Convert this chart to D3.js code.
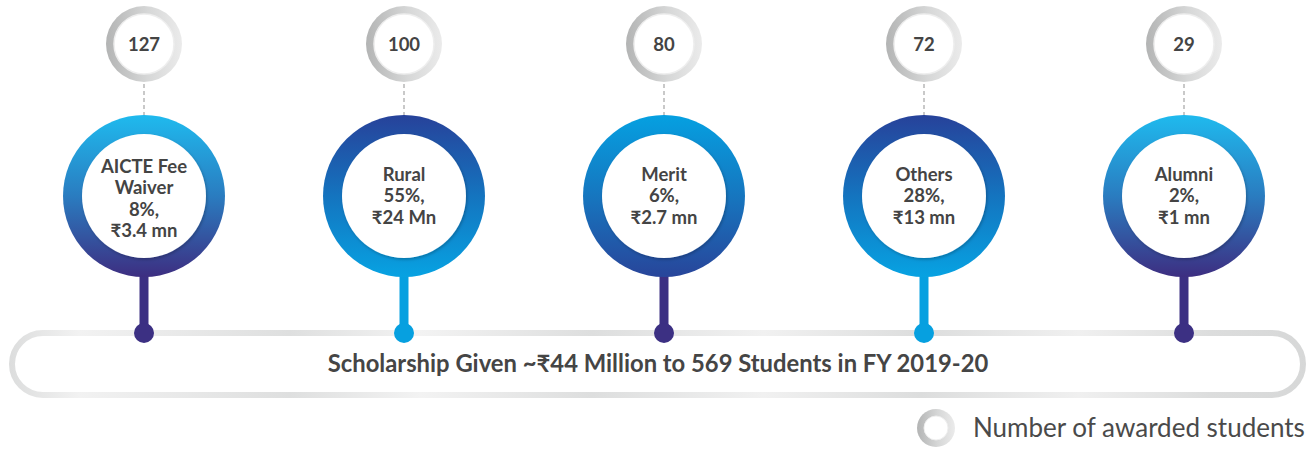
<!DOCTYPE html>
<html>
<head>
<meta charset="utf-8">
<script src="https://cdn.jsdelivr.net/npm/d3@7"></script>
<style>
  html, body { margin: 0; padding: 0; background: #ffffff; }
  svg { display: block; }
  text { font-family: Lato, "Open Sans", sans-serif; }
</style>
</head>
<body>
<svg id="chart" width="1316" height="449"></svg>
<script>
// ---- data ----
const categories = ["AICTE Fee Waiver", "Rural", "Merit", "Others", "Alumni"];
const categoryLines = [["AICTE Fee", "Waiver"], ["Rural"], ["Merit"], ["Others"], ["Alumni"]];
const students = [127, 100, 80, 72, 29];
const shares = ["8%,", "55%,", "6%,", "28%,", "2%,"];
const amounts = ["₹3.4 mn", "₹24 Mn", "₹2.7 mn", "₹13 mn", "₹1 mn"];
const ringStyle = ["A", "B", "C", "B", "A"];
const titleText = "Scholarship Given ~₹44 Million to 569 Students in FY 2019-20";
const legendText = "Number of awarded students";

// ---- styles ----
const ringStops = {
  A: [["0%", "#1fbaee"], ["50%", "#2a7cc0"], ["100%", "#3d2e81"]],
  B: [["0%", "#27429a"], ["50%", "#1474bf"], ["100%", "#07a2e2"]],
  C: [["0%", "#05a0e1"], ["50%", "#1676bf"], ["100%", "#28459a"]]
};
const stemColor = { A: "#3c3083", B: "#06a0e0", C: "#3c3083" };

const svg = d3.select("#chart");
const defs = svg.append("defs");

Object.entries(ringStops).forEach(([k, stops]) => {
  const g = defs.append("linearGradient").attr("id", "ring" + k)
    .attr("x1", 0).attr("y1", 0).attr("x2", 0).attr("y2", 1);
  stops.forEach(s => g.append("stop").attr("offset", s[0]).attr("stop-color", s[1]));
});

const gg = defs.append("linearGradient").attr("id", "grayRing")
  .attr("x1", 0).attr("y1", 0).attr("x2", 1).attr("y2", 0);
gg.append("stop").attr("offset", "0%").attr("stop-color", "#b3b4b4");
gg.append("stop").attr("offset", "55%").attr("stop-color", "#d6d7d7");
gg.append("stop").attr("offset", "100%").attr("stop-color", "#ebebeb");

const pg = defs.append("linearGradient").attr("id", "pillGrad")
  .attr("gradientUnits", "userSpaceOnUse").attr("x1", 0).attr("x2", 1316).attr("y1", 0).attr("y2", 0);
[["0%", "#d9dada"], ["6%", "#f2f2f2"], ["22%", "#dedfdf"], ["32%", "#f3f3f3"], ["45%", "#dddede"],
 ["58%", "#f1f1f1"], ["70%", "#dcdddd"], ["82%", "#f0f0f0"], ["92%", "#dcdddd"], ["100%", "#d6d7d7"]]
  .forEach(s => pg.append("stop").attr("offset", s[0]).attr("stop-color", s[1]));

const sh = defs.append("filter").attr("id", "shadow").attr("x", "-20%").attr("y", "-20%").attr("width", "140%").attr("height", "140%");
sh.append("feDropShadow").attr("dx", 1).attr("dy", 1.5).attr("stdDeviation", 1.5).attr("flood-color", "#000").attr("flood-opacity", 0.25);

// ---- layout ----
const x = d3.scalePoint().domain(categories).range([144, 1184]).padding(0);
const grayY = 44, grayR = 38, grayInner = 30;
const bigY = 196, bigR = 81, bigInner = 62;
const pill = { x: 12, y: 333, w: 1291, h: 62 };
const dotY = pill.y;

// pill
svg.append("rect")
  .attr("x", pill.x).attr("y", pill.y).attr("width", pill.w).attr("height", pill.h)
  .attr("rx", pill.h / 2).attr("ry", pill.h / 2)
  .attr("fill", "none").attr("stroke", "url(#pillGrad)").attr("stroke-width", 6);

svg.append("text")
  .attr("x", 658).attr("y", 372)
  .attr("text-anchor", "middle")
  .attr("font-size", 23.8).attr("font-weight", 700).attr("fill", "#454545")
  .text(titleText);

const items = svg.selectAll("g.item").data(categories).join("g").attr("class", "item")
  .attr("transform", d => `translate(${x(d)},0)`);

// dashed connector
items.append("line")
  .attr("x1", 0).attr("x2", 0).attr("y1", grayY + grayR + 2).attr("y2", bigY - bigR)
  .attr("stroke", "#c9c9c9").attr("stroke-width", 2).attr("stroke-dasharray", "4,3");

// stems
items.append("line")
  .attr("x1", 0).attr("x2", 0).attr("y1", bigY + bigR - 4).attr("y2", dotY)
  .attr("stroke", (d, i) => stemColor[ringStyle[i]]).attr("stroke-width", 9);
items.append("circle")
  .attr("cx", 0).attr("cy", dotY).attr("r", 10)
  .attr("fill", (d, i) => stemColor[ringStyle[i]]);

// big ring
items.append("circle")
  .attr("cx", 0).attr("cy", bigY).attr("r", bigR)
  .attr("fill", (d, i) => `url(#ring${ringStyle[i]})`);
items.append("circle")
  .attr("cx", 0).attr("cy", bigY).attr("r", bigInner)
  .attr("fill", "#ffffff").attr("filter", "url(#shadow)");

// gray ring
items.append("circle")
  .attr("cx", 0).attr("cy", grayY).attr("r", grayR)
  .attr("fill", "url(#grayRing)");
items.append("circle")
  .attr("cx", 0).attr("cy", grayY).attr("r", grayInner)
  .attr("fill", "#ffffff").attr("stroke", "#eeeeee").attr("stroke-width", 1.5);
items.append("text")
  .attr("x", 0).attr("y", grayY + 6.5)
  .attr("text-anchor", "middle")
  .attr("font-size", 18.5).attr("font-weight", 700).attr("fill", "#444")
  .text((d, i) => students[i]);

// labels in big ring
const lineH = 21.5;
items.each(function (d, i) {
  const lines = categoryLines[i].concat([shares[i], amounts[i]]);
  const y0 = bigY - (lines.length - 1) * lineH / 2 + 6 + (lines.length > 3 ? 3 : 0);
  const t = d3.select(this).append("text")
    .attr("text-anchor", "middle")
    .attr("font-size", 18.5).attr("font-weight", 700).attr("fill", "#444");
  lines.forEach((ln, j) => t.append("tspan").attr("x", 0).attr("y", y0 + j * lineH).text(ln));
});

// legend
const lg = svg.append("g").attr("transform", "translate(936,428)");
lg.append("circle").attr("r", 19).attr("fill", "url(#grayRing)");
lg.append("circle").attr("r", 12).attr("fill", "#fff").attr("stroke", "#eee");
lg.append("text")
  .attr("x", 37).attr("y", 9)
  .attr("font-size", 26).attr("fill", "#4a4a4a")
  .text(legendText);
</script>
</body>
</html>
